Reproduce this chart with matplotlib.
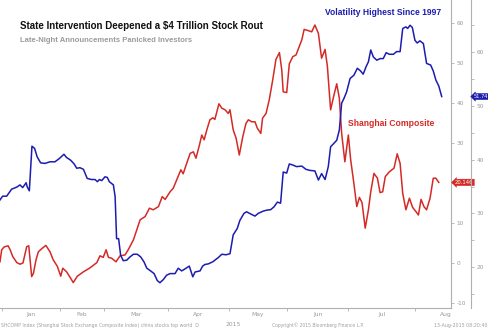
import matplotlib
matplotlib.use("Agg")
import matplotlib.pyplot as plt
import matplotlib.transforms as mtransforms
from matplotlib import font_manager
import numpy as np

plt.rcParams['axes.unicode_minus'] = False

# ---------------- data ----------------
month_names = ["Jan", "Feb", "Mar", "Apr", "May", "Jun", "Jul", "Aug"]
trading_days_per_month = [20, 15, 22, 21, 20, 21, 23, 21]

# Shanghai Composite (% change, inner right axis) : x = trading-day index
sh_x = [-0.7, -0.1, 0.7, 2.1, 2.8, 3.7, 5.1, 6.2, 7.2, 8.5, 9.2, 10.2, 10.8, 11.7, 12.5, 13.7,
        15.1, 16.5, 17.6, 19.0, 20.2, 20.9, 22.2, 23.6, 24.5, 25.9, 28.0, 30.3, 32.6, 33.7, 34.8,
        35.8, 36.6, 37.7, 39.2, 40.6, 42.3, 43.4, 45.2, 47.5, 49.2, 50.7, 52.0, 53.8, 55.1, 56.1,
        57.8, 58.9, 60.1, 61.5, 62.3, 63.5, 64.7, 65.8, 66.7, 67.9, 68.7, 69.5, 70.6, 71.5, 72.5,
        73.2, 74.6, 75.6, 76.7, 77.8, 78.4, 79.5, 80.5, 81.6, 82.8, 83.9, 84.7, 85.9, 87.0, 87.8,
        89.0, 89.6, 90.8, 91.9, 93.1, 94.2, 95.4, 96.2, 96.7, 97.9, 98.8, 100.0, 101.1, 102.2,
        103.1, 103.9, 105.3, 106.5, 107.6, 108.8, 109.9, 111.1, 111.9, 113.0, 113.9, 115.1, 116.0,
        116.8, 117.9, 119.1, 119.9, 121.0, 122.0, 122.9, 123.8, 124.9, 126.0, 126.8, 127.9, 129.1,
        130.0, 130.9, 131.8, 133.2, 134.8, 135.9, 136.9, 137.8, 138.9, 140.1, 141.2, 142.4, 143.2,
        144.1, 145.1, 146.0, 147.2, 148.3, 149.2, 150.2]
sh_y = [0.3, 3.3, 4.0, 4.3, 3.3, 1.6, 0.1, -0.3, 0.0, 4.1, 4.3, -3.4, -2.6, 0.8, 2.8, 3.6,
        4.4, 2.8, 0.8, -0.8, -3.3, -1.3, -2.2, -3.8, -4.9, -3.3, -2.2, -1.2, 0.1, 1.8, 1.4,
        3.3, 1.4, 1.2, 0.3, 1.8, 2.0, 3.3, 5.8, 10.8, 11.6, 13.7, 13.3, 14.1, 16.6, 15.9,
        17.8, 18.7, 20.8, 23.3, 22.3, 24.9, 27.4, 27.8, 26.2, 29.5, 32.0, 30.8, 33.7, 35.8, 36.3,
        35.9, 39.8, 38.7, 38.3, 37.4, 38.3, 33.3, 31.2, 27.0, 31.6, 34.9, 35.8, 35.3, 35.3, 33.7,
        32.4, 36.2, 37.4, 40.8, 45.8, 50.9, 52.6, 48.3, 42.8, 42.6, 49.8, 51.6, 52.0, 54.1,
        55.8, 58.4, 58.1, 57.8, 59.5, 57.4, 51.2, 53.4, 49.1, 38.3, 41.2, 44.8, 41.2,
        32.4, 25.3, 32.0, 25.8, 19.9, 14.1, 16.4, 15.1, 8.7, 13.3, 17.8, 22.4, 21.2,
        17.6, 17.8, 21.6, 22.8, 23.7, 27.3, 24.9, 17.4, 13.3, 16.2, 13.9, 12.8, 12.0,
        15.9, 14.1, 13.3, 16.2, 21.2, 21.2, 20.146]

# Volatility (outer right axis)
vol_x = [-0.7, 0.2, 1.6, 3.3, 5.1, 6.2, 7.1, 8.3, 8.7, 9.4, 10.3, 11.2, 12.1, 13.3, 14.8, 16.5,
         18.2, 19.7, 21.3, 22.2, 23.6, 24.8, 25.7, 26.8, 28.0, 29.3, 30.8, 32.0, 32.8, 33.5, 34.3,
         35.4, 36.2, 36.9, 38.3, 38.9, 39.4, 40.1, 40.8, 41.7, 42.9, 44.0, 45.2, 46.5, 47.7, 48.8,
         49.8, 51.1, 52.3, 53.4, 54.3, 55.5, 56.6, 57.8, 59.5, 60.6, 61.8, 63.3, 64.4, 65.6, 66.4,
         68.1, 69.0, 69.8, 70.9, 72.5, 74.4, 75.6, 77.0, 78.4, 79.5, 80.9, 81.8, 83.2, 84.1, 85.5,
         87.0, 88.1, 89.7, 91.0, 92.4, 93.5, 94.7, 95.8, 96.7, 97.9, 98.8, 100.0, 101.3, 103.1,
         104.5, 105.9, 107.6, 108.8, 109.9, 111.1, 112.2, 113.0, 113.9, 115.1, 116.0, 116.8, 117.6,
         118.5, 119.7, 121.0, 122.2, 123.3, 124.2, 125.2, 126.0, 126.8, 127.7, 128.9, 130.0, 131.1,
         132.1, 133.2, 134.6, 135.7, 136.9, 137.8, 138.9, 139.5, 140.3, 141.1, 142.0, 142.8, 143.7,
         144.9, 146.0, 147.4, 148.3, 149.2, 150.2, 151.2]
vol_y = [32.5, 33.2, 33.2, 34.5, 34.9, 35.3, 34.8, 35.7, 34.9, 34.2, 42.5, 42.1, 40.5, 39.4, 39.3, 39.6,
         39.6, 40.2, 41.0, 40.4, 39.9, 39.2, 38.4, 38.5, 38.2, 36.5, 36.3, 36.3, 35.9, 36.3, 36.1,
         36.8, 36.7, 35.9, 35.3, 33.1, 25.3, 25.3, 22.2, 21.2, 21.3, 21.9, 22.4, 22.4, 21.9, 21.0,
         19.8, 19.3, 18.8, 17.5, 17.1, 17.7, 18.5, 18.8, 18.8, 19.8, 19.3, 19.8, 20.2, 18.2, 19.1,
         19.3, 20.2, 20.5, 20.6, 21.0, 21.8, 22.4, 22.3, 22.5, 26.0, 27.2, 28.7, 30.0, 30.3, 29.9,
         29.5, 30.0, 30.4, 30.6, 30.7, 31.2, 32.1, 31.9, 37.7, 37.5, 39.2, 39.0, 38.7, 38.8,
         38.2, 38.0, 37.9, 36.2, 37.4, 36.3, 38.7, 42.4, 42.9, 43.6, 45.5, 50.5, 51.4,
         52.6, 55.1, 55.7, 57.0, 56.5, 55.9, 57.3, 58.2, 60.4, 59.1, 58.5, 58.8, 58.8,
         59.9, 59.6, 59.6, 60.1, 60.1, 64.4, 64.7, 64.4, 65.0, 64.6, 62.2, 61.7, 62.1,
         61.6, 57.9, 57.6, 56.5, 54.8, 53.7, 51.74]

sh_last = "20.146"
vol_last = "51.74"

title = "State Intervention Deepened a $4 Trillion Stock Rout"
subtitle = "Late-Night Announcements Panicked Investors"
vol_label = "Volatility Highest Since 1997"
sh_label = "Shanghai Composite"
footer_left = "SHCOMP Index (Shanghai Stock Exchange Composite Index) china stocks top world  D"
footer_mid = "Copyright\u00a9 2015 Bloomberg Finance L.P."
footer_right = "13-Aug-2015 08:20:40"
year_label = "2015"

# ---------------- style ----------------
RED = "#d42a26"
BLUE = "#1c1cb0"
GRAY = "#9a9a9a"
AX_GRAY = "#b0b0b0"

installed = {f.name for f in font_manager.fontManager.ttflist}
narrow = "Liberation Sans Narrow" if "Liberation Sans Narrow" in installed else "Liberation Sans"

W, H = 488, 329
fig = plt.figure(figsize=(W / 100, H / 100), dpi=100)
ax = fig.add_axes([0, 21 / H, 451 / W, 308 / H])

month_starts = np.concatenate([[0], np.cumsum(trading_days_per_month)])
month_mids = (month_starts[:-1] + month_starts[1:]) / 2

ax.set_xlim(-0.69, 154.4)
ax.set_ylim(-11.25, 65.75)
ax.plot(sh_x, sh_y, color=RED, lw=1.1, solid_joinstyle="round")

ax2 = ax.twinx()
ax2.set_ylim(12.4, 69.7)
ax2.plot(vol_x, vol_y, color=BLUE, lw=1.1, solid_joinstyle="round")

# inner axis (Shanghai)
for s in ["top", "left"]:
    ax.spines[s].set_visible(False)
ax.spines["right"].set_color(AX_GRAY)
ax.spines["bottom"].set_color(AX_GRAY)
ax.spines["right"].set_linewidth(0.8)
ax.spines["bottom"].set_linewidth(0.8)
ax.yaxis.tick_right()
ax.yaxis.set_label_position("right")
inner_ticks = list(range(-10, 61, 10))
ax.set_yticks(inner_ticks)
# the "20" label sits under the last-value tag, as in the original
ax.set_yticklabels(["" if v == 20 else str(v) for v in inner_ticks])
ax.tick_params(axis="y", colors=AX_GRAY, labelcolor=GRAY, labelsize=4.2, length=2.5, width=0.6, pad=1.5,
               left=False, labelleft=False, right=True, labelright=True)

ax.set_xticks(month_starts[:-1], minor=True)
ax.set_xticks(month_mids)
ax.set_xticklabels(month_names)
ax.tick_params(axis="x", which="major", length=0, labelsize=4.3, labelcolor=GRAY, pad=3)
ax.tick_params(axis="x", which="minor", length=2, width=0.6, colors=AX_GRAY, direction="out")

# outer axis (volatility)
for s in ["top", "left", "bottom"]:
    ax2.spines[s].set_visible(False)
ax2.spines["right"].set_position(("axes", 1.044))
ax2.spines["right"].set_color(AX_GRAY)
ax2.spines["right"].set_linewidth(0.8)
ax2.set_yticks(np.arange(20, 61, 10))
ax2.set_yticklabels([str(v) for v in range(20, 61, 10)])
ax2.set_yticks(np.arange(15, 70, 10), minor=True)
ax2.tick_params(axis="y", which="major", colors=AX_GRAY, labelcolor=GRAY, labelsize=4.2, length=2.5, width=0.6, pad=1.5)
ax2.tick_params(axis="y", which="minor", colors=AX_GRAY, length=2.5, width=0.6)

# value tags
tr1 = mtransforms.blended_transform_factory(ax.transAxes, ax.transData)
ax.text(1.009, sh_y[-1], sh_last, transform=tr1, ha="left", va="center", fontsize=3.8,
        color="white", clip_on=False, zorder=10,
        bbox=dict(boxstyle="larrow,pad=0.15", fc=RED, ec=RED, lw=0.3))
tr2 = mtransforms.blended_transform_factory(ax2.transAxes, ax2.transData)
ax2.text(1.051, vol_y[-1], vol_last, transform=tr2, ha="left", va="center", fontsize=3.7,
         color="white", clip_on=False, zorder=10,
         bbox=dict(boxstyle="larrow,pad=0.12", fc=BLUE, ec=BLUE, lw=0.3))

ax.text(77, -15.3, year_label, ha="left", va="center", fontsize=4.3, color=GRAY, clip_on=False)

# ---------------- texts ----------------
renderer = fig.canvas.get_renderer()


def fit(t, target_px):
    bb = t.get_window_extent(renderer=renderer)
    t.set_fontsize(t.get_fontsize() * target_px / bb.width)


t1 = fig.text(20 / W, 1 - 26 / H, title, fontsize=8, fontweight="bold", color="#111111",
              family=[narrow, "DejaVu Sans"], va="center", ha="left")
fit(t1, 245)
t2 = fig.text(20 / W, 1 - 40.5 / H, subtitle, fontsize=6, fontweight="bold", color="#9b9b9b",
              family=[narrow, "DejaVu Sans"], va="center", ha="left")
fit(t2, 175)
t3 = fig.text(325 / W, 1 - 12.5 / H, vol_label, fontsize=6, fontweight="bold", color=BLUE,
              family=[narrow, "DejaVu Sans"], va="center", ha="left")
fit(t3, 117)
t4 = fig.text(348 / W, 1 - 123 / H, sh_label, fontsize=6, fontweight="bold", color=RED,
              family=[narrow, "DejaVu Sans"], va="center", ha="left")
fit(t4, 88)

f1 = fig.text(1 / W, 1 - 325 / H, footer_left, fontsize=3.6, color="#a0a0a0", va="center", ha="left")
fit(f1, 203)
f2 = fig.text(272 / W, 1 - 325 / H, footer_mid, fontsize=3.6, color="#a0a0a0", va="center", ha="left")
fit(f2, 95)
f3 = fig.text(434 / W, 1 - 325 / H, footer_right, fontsize=3.6, color="#a0a0a0", va="center", ha="left")
fit(f3, 53)

fig.savefig("out.png", dpi=100, facecolor="white")
